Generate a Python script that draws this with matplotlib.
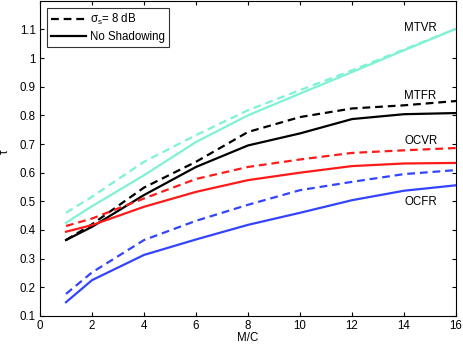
import matplotlib
matplotlib.use("Agg")
import matplotlib.pyplot as plt

plt.rcParams['font.family'] = ['Liberation Sans', 'DejaVu Sans']
plt.rcParams['mathtext.fontset'] = 'custom'
plt.rcParams['mathtext.rm'] = 'Liberation Sans'
plt.rcParams['mathtext.it'] = 'Liberation Sans'

# отношение M/C
mc = [1, 2, 4, 6, 8, 10, 12, 14, 16]

# сплошные линии - без затенения, пунктир - sigma_s = 8 dB
mtvr = [0.425, 0.483, 0.591, 0.707, 0.800, 0.876, 0.951, 1.027, 1.102]
mtvr_sh = [0.460, 0.516, 0.638, 0.731, 0.818, 0.888, 0.957, 1.030, 1.102]
mtfr = [0.365, 0.411, 0.522, 0.620, 0.695, 0.737, 0.787, 0.804, 0.808]
mtfr_sh = [0.365, 0.420, 0.548, 0.638, 0.742, 0.794, 0.824, 0.835, 0.850]
ocvr = [0.394, 0.417, 0.481, 0.533, 0.574, 0.600, 0.623, 0.632, 0.634]
ocvr_sh = [0.414, 0.440, 0.510, 0.578, 0.620, 0.646, 0.669, 0.678, 0.686]
ocfr = [0.148, 0.225, 0.313, 0.367, 0.418, 0.460, 0.504, 0.537, 0.556]
ocfr_sh = [0.177, 0.252, 0.365, 0.432, 0.488, 0.539, 0.568, 0.595, 0.609]

names = ['MTVR', 'MTFR', 'OCVR', 'OCFR']
name_y = [1.103, 0.868, 0.71, 0.498]

cyan = '#7ff2d6'
blue = '#3344ff'
red = '#ff1a1a'

fs = 8.3

fig = plt.figure(figsize=(4.63, 3.48), dpi=100)
ax = fig.add_axes([0.0864, 0.092, 0.8986, 0.906])

lw = 1.6
ds = (0, (3.5, 2.2))
ax.plot(mc, mtfr_sh, color='black', lw=lw, linestyle=ds, label=r'$\sigma_s$= 8 dB')
ax.plot(mc, mtfr, color='black', lw=lw, label='No Shadowing')
ax.plot(mc, mtvr_sh, color=cyan, lw=lw, linestyle=ds)
ax.plot(mc, mtvr, color=cyan, lw=lw)
ax.plot(mc, ocvr_sh, color=red, lw=lw, linestyle=ds)
ax.plot(mc, ocvr, color=red, lw=lw)
ax.plot(mc, ocfr_sh, color=blue, lw=lw, linestyle=ds)
ax.plot(mc, ocfr, color=blue, lw=lw)

for name, y in zip(names, name_y):
    ax.text(14, y, name, fontsize=fs, va='center', ha='left')

ax.set_xlim(0, 16)
ax.set_ylim(0.1, 1.2)
ax.set_xticks(range(0, 17, 2))
ax.set_yticks([0.1, 0.2, 0.3, 0.4, 0.5, 0.6, 0.7, 0.8, 0.9, 1.0, 1.1])
ax.set_yticklabels(['0.1', '0.2', '0.3', '0.4', '0.5', '0.6', '0.7', '0.8', '0.9', '1', '1.1'])
ax.tick_params(direction='in', top=True, right=True, labelsize=fs, length=3, pad=3)
ax.set_xlabel('M/C', fontsize=fs, labelpad=0)
ax.set_ylabel('τ', fontsize=fs)
ax.yaxis.set_label_coords(-0.07, 0.52)

leg = ax.legend(loc='upper left', fontsize=fs, fancybox=False, edgecolor='black',
                handlelength=3.0, borderaxespad=0.6, borderpad=0.35, labelspacing=0.35,
                handletextpad=0.4)
leg.get_frame().set_linewidth(0.8)

plt.savefig('out.png', dpi=100)
